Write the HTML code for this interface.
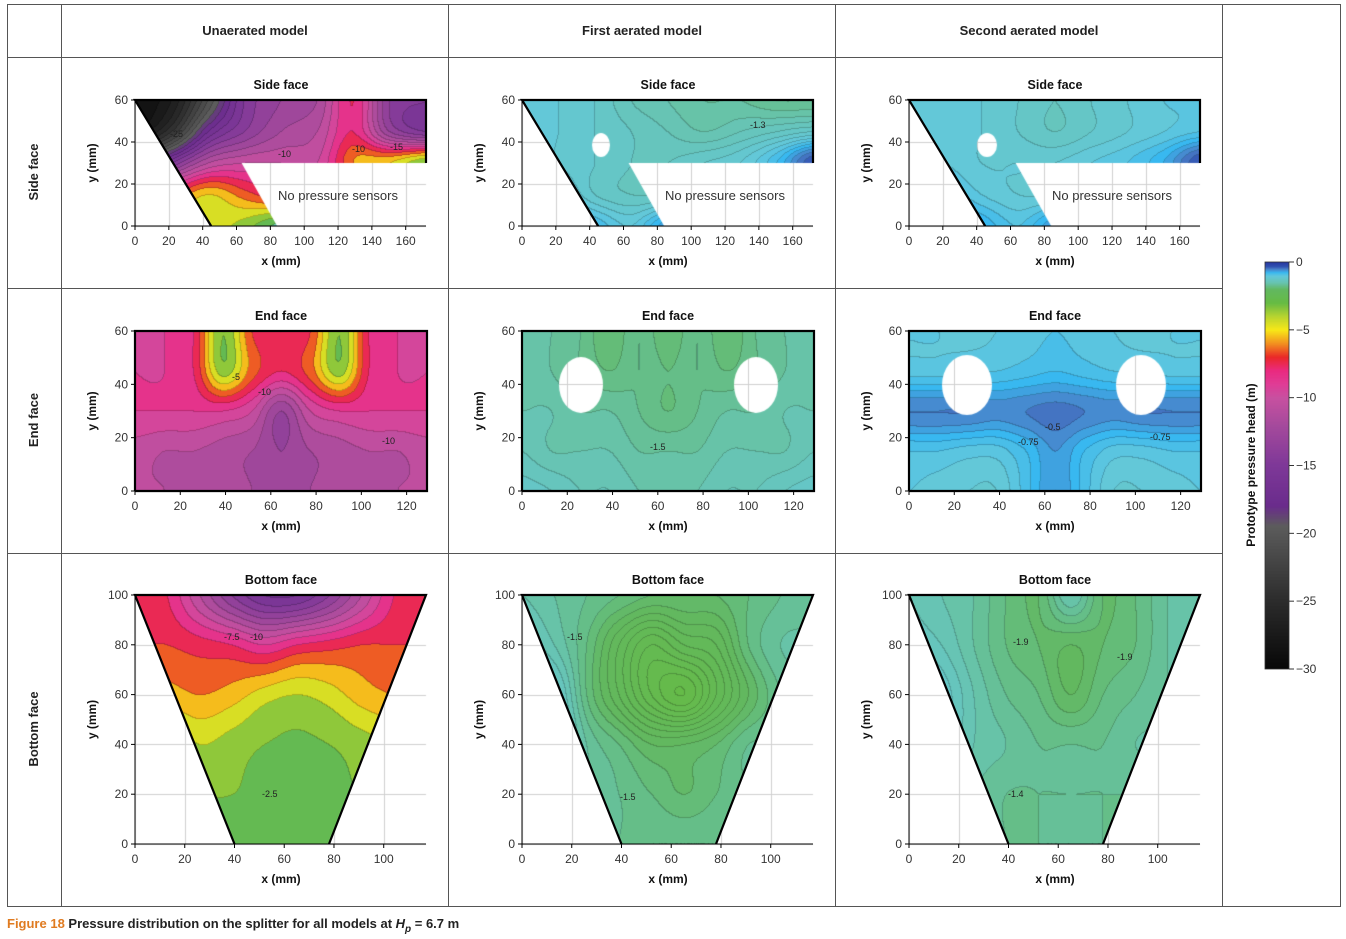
<!DOCTYPE html>
<html><head><meta charset="utf-8">
<style>
body{margin:0;background:#fff;width:1346px;height:939px;overflow:hidden;position:relative;font-family:"Liberation Sans",sans-serif}
canvas{position:absolute}
#ov{position:absolute;left:0;top:0}
</style></head><body>
<div id="cv"></div>
<svg id="ov" width="1346" height="939" font-family="Liberation Sans, sans-serif"></svg>
<script>
// ---- data: pressure grids (rows top->bottom, cols left->right), metres ----
const sideUnaerated=[
[-29,-27,-21,-15,-13,-12,-8,-14,-15],
[-28,-24,-17,-14,-12,-11,-8,-13,-15],
[-20,-15,-11,-10,-10,-10,-6,-5,-3],
[-9,-7,-5,-6.5,-8,-9,-9,-9,-9],
[-5,-4,-4.5,-3.5,-1.5,-1.5,-1.5,-1.5,-1.5]];
const sideFirst=[
[-1.0,-1.1,-1.2,-1.4,-1.5,-1.6,-1.6,-1.7,-1.7],
[-1.0,-1.1,-1.2,-1.3,-1.4,-1.5,-1.4,-1.3,-1.2],
[-0.9,-1.1,-1.2,-1.3,-1.3,-1.2,-1.1,-0.8,-0.3],
[-0.7,-0.9,-1.2,-1.3,-1.3,-1.2,-1.2,-1.2,-1.2],
[-0.4,-0.6,-0.8,-1.0,-0.6,-0.6,-0.6,-0.6,-0.6]];
const sideSecond=[
[-1.0,-1.05,-1.1,-1.2,-1.3,-1.2,-1.1,-1.0,-1.0],
[-1.0,-1.05,-1.1,-1.2,-1.3,-1.2,-1.1,-1.0,-0.9],
[-0.9,-1.0,-1.1,-1.1,-1.1,-1.0,-0.9,-0.7,-0.3],
[-0.7,-0.8,-1.0,-1.1,-1.1,-1.0,-1.0,-1.0,-1.0],
[-0.4,-0.5,-0.7,-0.9,-0.6,-0.6,-0.6,-0.6,-0.6]];
const endUnaerated=[
[-9,-9,-8,-3,-7,-8,-7,-3,-8,-9,-9],
[-9,-9,-8,-3.5,-6.5,-8,-6.5,-3.5,-8,-9,-9],
[-9,-9,-9,-9,-10,-13,-10,-9,-9,-9,-9],
[-10.5,-11,-11,-11.5,-12,-13,-12,-11.5,-11,-11,-10.5],
[-11,-11,-11.5,-11.5,-12,-12.5,-12,-11.5,-11.5,-11,-11]];
const endFirst=[
[-1.5,-1.6,-1.7,-1.9,-1.7,-1.9,-1.7,-1.9,-1.7,-1.6,-1.5],
[-1.5,-1.6,-1.7,-1.8,-1.7,-1.8,-1.7,-1.8,-1.7,-1.6,-1.5],
[-1.5,-1.5,-1.6,-1.6,-1.7,-1.8,-1.7,-1.6,-1.6,-1.5,-1.5],
[-1.4,-1.5,-1.5,-1.5,-1.6,-1.6,-1.6,-1.5,-1.5,-1.5,-1.4],
[-1.25,-1.3,-1.4,-1.4,-1.5,-1.5,-1.5,-1.4,-1.4,-1.3,-1.25]];
const endSecond=[
[-1.0,-1.0,-1.05,-1.0,-0.95,-0.9,-0.95,-1.0,-1.05,-1.0,-1.0],
[-0.95,-0.95,-0.9,-0.9,-0.85,-0.8,-0.85,-0.9,-0.9,-0.95,-0.95],
[-0.5,-0.5,-0.5,-0.55,-0.5,-0.45,-0.5,-0.55,-0.5,-0.5,-0.5],
[-0.9,-0.9,-0.95,-0.95,-0.8,-0.6,-0.8,-0.95,-0.95,-0.9,-0.9],
[-1.0,-1.05,-1.1,-1.1,-0.85,-0.6,-0.85,-1.1,-1.1,-1.05,-1.0]];
const bottomUnaerated=[
[-7,-8,-11,-14,-16,-16,-14,-11,-8,-7],
[-7,-7,-7.5,-8,-9,-8,-7.5,-7,-7,-7],
[-5,-5.5,-6,-5.5,-4.5,-4,-4.5,-5.5,-6,-6],
[-2.5,-3,-4,-3.5,-3,-2.8,-3,-3.5,-4,-4.5],
[-2,-2.5,-3,-3,-2.7,-2.6,-2.7,-3,-3,-3],
[-2.5,-2.5,-2.5,-2.5,-2.5,-2.5,-2.5,-2.5,-2.5,-2.5]];
const bottomFirst=[
[-1.5,-1.6,-1.7,-1.8,-1.9,-1.9,-1.9,-1.8,-1.7,-1.6],
[-1.3,-1.5,-1.8,-2.2,-2.5,-2.3,-2.2,-1.8,-1.6,-1.6],
[-1.0,-1.2,-1.8,-2.2,-2.6,-2.8,-2.4,-2.0,-1.7,-1.6],
[-0.6,-1.1,-1.6,-1.8,-2.0,-2.0,-1.9,-1.7,-1.7,-1.7],
[-1.4,-1.5,-1.6,-1.7,-1.8,-1.9,-1.8,-1.7,-1.7,-1.7],
[-1.6,-1.6,-1.6,-1.7,-1.7,-1.7,-1.7,-1.7,-1.7,-1.7]];
const bottomSecond=[
[-1.4,-1.5,-1.6,-1.8,-1.9,-1.5,-1.9,-1.8,-1.6,-1.5],
[-1.3,-1.4,-1.6,-1.8,-1.9,-2.0,-1.9,-1.8,-1.6,-1.5],
[-0.9,-1.2,-1.5,-1.7,-1.8,-2.0,-1.8,-1.7,-1.6,-1.6],
[-0.6,-1.2,-1.5,-1.6,-1.7,-1.7,-1.7,-1.6,-1.6,-1.6],
[-1.4,-1.5,-1.6,-1.7,-1.7,-1.7,-1.7,-1.7,-1.7,-1.7],
[-1.6,-1.6,-1.6,-1.7,-1.7,-1.7,-1.7,-1.7,-1.7,-1.7]];
const colorbarTicks=[0,-5,-10,-15,-20,-25,-30];
const sideXTicks=[0,20,40,60,80,100,120,140,160];
const sideYTicks=[0,20,40,60];
const endXTicks=[0,20,40,60,80,100,120];
const endYTicks=[0,20,40,60];
const bottomXTicks=[0,20,40,60,80,100];
const bottomYTicks=[0,20,40,60,80,100];

const knots=[[0,[40,56,160]],[-0.3,[48,80,176]],[-0.5,[74,128,200]],[-0.75,[56,184,240]],[-1.0,[98,200,220]],[-1.5,[104,196,176]],[-2,[98,184,96]],[-3,[102,187,68]],[-4,[184,212,48]],[-5,[248,232,24]],[-6,[242,144,32]],[-7,[234,40,40]],[-8,[234,42,128]],[-9,[224,60,150]],[-10,[200,80,160]],[-12,[166,74,156]],[-15,[126,56,152]],[-18,[106,44,140]],[-19.5,[92,92,92]],[-25,[44,44,44]],[-30,[8,8,8]]];
function cmap(v){if(v>=0)return knots[0][1];for(let i=1;i<knots.length;i++){if(v>=knots[i][0]){const a=knots[i-1],b=knots[i],t=(v-a[0])/(b[0]-a[0]);return a[1].map((c,k)=>c+(b[1][k]-c)*t);}}return knots[knots.length-1][1];}
function cr(p0,p1,p2,p3,t){return 0.5*(2*p1+(-p0+p2)*t+(2*p0-5*p1+4*p2-p3)*t*t+(-p0+3*p1-3*p2+p3)*t*t*t);}
function sample(g,fx,fy){const R=g.length,C=g[0].length;const ix=Math.min(Math.floor(fx),C-2),iy=Math.min(Math.floor(fy),R-2);const tx=fx-ix,ty=fy-iy;const cl=(a,n)=>Math.max(0,Math.min(n-1,a));const rows=[];for(let j=-1;j<3;j++){const r=g[cl(iy+j,R)];rows.push(cr(r[cl(ix-1,C)],r[cl(ix,C)],r[cl(ix+1,C)],r[cl(ix+2,C)],tx));}return cr(rows[0],rows[1],rows[2],rows[3],ty);}

const rows={side:{y0:100,h:126,xmax:172,ymax:60,w:291,poly:[[0,60],[172,60],[172,30],[63,30],[84,0],[45,0]],xt:sideXTicks,yt:sideYTicks,title:'Side face'},
end:{y0:331,h:160,xmax:129,ymax:60,w:292,poly:[[0,60],[129,60],[129,0],[0,0]],xt:endXTicks,yt:endYTicks,title:'End face'},
bottom:{y0:595,h:249,xmax:117,ymax:100,w:291,poly:[[0,100],[117,100],[78,0],[40,0]],xt:bottomXTicks,yt:bottomYTicks,title:'Bottom face'}};
const cols=[135,522,909];
const panels=[['side',0,sideUnaerated,1,[]],['side',1,sideFirst,0.1,[[601,145,9,12]]],['side',2,sideSecond,0.1,[[987,145,10,12]]],
['end',0,endUnaerated,1,[]],['end',1,endFirst,0.1,[[581,385,22,28],[756,385,22,28]]],['end',2,endSecond,0.1,[[967,385,25,30],[1141,385,25,30]]],
['bottom',0,bottomUnaerated,1,[]],['bottom',1,bottomFirst,0.1,[]],['bottom',2,bottomSecond,0.1,[]]];
const NS='http://www.w3.org/2000/svg';const ov=document.getElementById('ov');
function el(tag,attrs,txt){const e=document.createElementNS(NS,tag);for(const k in attrs)e.setAttribute(k,attrs[k]);if(txt!==undefined)e.textContent=txt;ov.appendChild(e);return e;}

const tb=el('rect',{x:7.5,y:4.5,width:1333,height:902,fill:'none',stroke:'#555','stroke-width':1});

[61,448,835,1222].forEach(x=>{const l=el('line',{x1:x+.5,y1:4,x2:x+.5,y2:906,stroke:'#555'});});
[57,288,553].forEach(y=>{const l=el('line',{x1:7,y1:y+.5,x2:1222,y2:y+.5,stroke:'#555'});});
[['Unaerated model',255],['First aerated model',642],['Second aerated model',1029]].forEach(a=>{const t=el('text',{x:a[1],y:35,'text-anchor':'middle','font-size':13,'font-weight':'bold',fill:'#222'},a[0]);});
[['Side face',172],['End face',420],['Bottom face',729]].forEach(a=>{const t=el('text',{x:0,y:0,transform:`translate(38,${a[1]}) rotate(-90)`,'text-anchor':'middle','font-size':13,'font-weight':'bold',fill:'#222'},a[0]);});

panels.forEach(p=>{const R=rows[p[0]],x0=cols[p[1]],g=p[2],step=p[3];
 const sx=v=>x0+v/R.xmax*R.w, sy=v=>R.y0+R.h-v/R.ymax*R.h;
 const c=document.createElement('canvas');c.width=R.w+4;c.height=R.h+4;c.style.left=(x0-2)+'px';c.style.top=(R.y0-2)+'px';
 
 document.getElementById('cv').appendChild(c);const ctx=c.getContext('2d');
 const drawGrid=()=>{R.xt.forEach(t=>{const X=Math.round(sx(t)-x0+2)+.5;ctx.beginPath();ctx.moveTo(X,2);ctx.lineTo(X,R.h+2);ctx.stroke();});
  R.yt.forEach(t=>{const Y=Math.round(sy(t)-R.y0+2)+.5;ctx.beginPath();ctx.moveTo(2,Y);ctx.lineTo(R.w+2,Y);ctx.stroke();});};
 ctx.strokeStyle='#cfcfcf';ctx.lineWidth=1;drawGrid();
 const off=document.createElement('canvas');off.width=c.width;off.height=c.height;const o=off.getContext('2d');const img=o.createImageData(c.width,c.height);
 const Rn=g.length,Cn=g[0].length,W=c.width,H=c.height;const band=new Int32Array(W*H);
 for(let j=0;j<H;j++)for(let i=0;i<W;i++){const dx=(i-2)/R.w,dy=(j-2)/R.h;const fx=Math.max(0,Math.min(1,dx))*(Cn-1),fy=Math.max(0,Math.min(1,dy))*(Rn-1);const v=sample(g,fx,fy);band[j*W+i]=Math.ceil(v/step);}
 for(let j=0;j<H;j++)for(let i=0;i<W;i++){const b=band[j*W+i];const col=cmap(b*step-step/2);let f=1;
  if((i+1<W&&band[j*W+i+1]!==b)||(j+1<H&&band[(j+1)*W+i]!==b))f=0.8;
  const k=(j*W+i)*4;img.data[k]=col[0]*f;img.data[k+1]=col[1]*f;img.data[k+2]=col[2]*f;img.data[k+3]=255;}
 o.putImageData(img,0,0);
 ctx.save();ctx.beginPath();R.poly.forEach((pt,i)=>{const X=sx(pt[0])-x0+2,Y=sy(pt[1])-R.y0+2;i?ctx.lineTo(X,Y):ctx.moveTo(X,Y);});ctx.closePath();
 p[4].forEach(h=>{const X=h[0]-x0+2,Y=h[1]-R.y0+2;ctx.moveTo(X+h[2],Y);ctx.ellipse(X,Y,h[2],h[3],0,0,Math.PI*2,true);});
 ctx.clip('evenodd');ctx.drawImage(off,0,0);ctx.restore();
 ctx.strokeStyle='#cfcfcf';
 p[4].forEach(h=>{ctx.save();ctx.beginPath();ctx.ellipse(h[0]-x0+2,h[1]-R.y0+2,h[2],h[3],0,0,Math.PI*2);ctx.clip();drawGrid();ctx.restore();});
 const bottomY=R.y0+R.h;
 el('line',{x1:x0,y1:bottomY,x2:x0+R.w,y2:bottomY,stroke:'#000','stroke-width':1});
 el('line',{x1:x0,y1:R.y0,x2:x0,y2:bottomY,stroke:'#000','stroke-width':1});
 const thick=pts=>{const l=el('polyline',{points:pts.map(q=>sx(q[0])+','+sy(q[1])).join(' '),fill:'none',stroke:'#000','stroke-width':2.2});};
 if(p[0]==='side'){thick([[45,0],[0,60],[172,60],[172,30]]);}
 else if(p[0]==='end'){thick([[0,0],[0,60],[129,60],[129,0],[0,0]]);}
 else{thick([[40,0],[0,100],[117,100],[78,0]]);}
 R.xt.forEach(t=>{el('line',{x1:sx(t),y1:bottomY,x2:sx(t),y2:bottomY+4,stroke:'#000'});const tl=el('text',{x:sx(t),y:bottomY+19,'text-anchor':'middle','font-size':12,fill:'#333'},t);});
 R.yt.forEach(t=>{el('line',{x1:x0-4,y1:sy(t),x2:x0,y2:sy(t),stroke:'#000'});const tl=el('text',{x:x0-7,y:sy(t)+4,'text-anchor':'end','font-size':12,fill:'#333'},t);});
 const ti=el('text',{x:x0+146,y:R.y0-11,'text-anchor':'middle','font-size':12.5,'font-weight':'bold',fill:'#111'},R.title);
 const xl=el('text',{x:x0+146,y:bottomY+39,'text-anchor':'middle','font-size':12,'font-weight':'bold',fill:'#111'},'x (mm)');
 const yl=el('text',{x:0,y:0,transform:`translate(${x0-39},${R.y0+R.h/2}) rotate(-90)`,'text-anchor':'middle','font-size':12,'font-weight':'bold',fill:'#111'},'y (mm)');
 if(p[0]==='side'){const ns=el('text',{x:x0+203,y:200,'text-anchor':'middle','font-size':13,fill:'#333'},'No pressure sensors');}
});
[[170,137,'-25'],[278,157,'-10'],[352,152,'-10'],[390,150,'-15'],[232,380,'-5'],[258,395,'-10'],[382,444,'-10'],[250,640,'-10'],[224,640,'-7.5'],[650,450,'-1.5'],[750,128,'-1.3'],[1045,430,'-0.5'],[1150,440,'-0.75'],[1018,445,'-0.75'],[262,797,'-2.5'],[567,640,'-1.5'],[620,800,'-1.5'],[1013,645,'-1.9'],[1117,660,'-1.9'],[1008,797,'-1.4']].forEach(a=>{const t=el('text',{x:a[0],y:a[1],'font-size':9,fill:'#222'},a[2]);});
const cb0=262,cb1=669,cbx=1265,cbw=24;
const cbc=document.createElement('canvas');cbc.width=cbw;cbc.height=cb1-cb0;cbc.style.left=cbx+'px';cbc.style.top=cb0+'px';

document.getElementById('cv').appendChild(cbc);const cx=cbc.getContext('2d');
for(let j=0;j<cbc.height;j++){const c=cmap(-30*j/(cbc.height-1));cx.fillStyle=`rgb(${c.map(Math.round).join(',')})`;cx.fillRect(0,j,cbw,1);}
el('rect',{x:cbx,y:cb0,width:cbw,height:cb1-cb0,fill:'none',stroke:'#333','stroke-width':.8});
colorbarTicks.forEach(t=>{const y=cb0+(t/-30)*(cb1-cb0);el('line',{x1:cbx+cbw,y1:y,x2:cbx+cbw+5,y2:y,stroke:'#333'});const tl=el('text',{x:cbx+cbw+7,y:y+4,'font-size':12,fill:'#333'},t===0?'0':'\u2212'+(-t));});
const ct=el('text',{x:0,y:0,transform:'translate(1255,465) rotate(-90)','text-anchor':'middle','font-size':12,'font-weight':'bold',fill:'#111'},'Prototype pressure head (m)');
const cap=el('text',{x:7,y:928,'font-size':13,'font-weight':'bold',fill:'#222'});
cap.innerHTML='<tspan fill="#e07b20">Figure 18</tspan> Pressure distribution on the splitter for all models at <tspan font-style="italic">H</tspan><tspan font-style="italic" font-size="10" dy="4">p</tspan><tspan dy="-4"> = 6.7 m</tspan>';
</script>
</body></html>
